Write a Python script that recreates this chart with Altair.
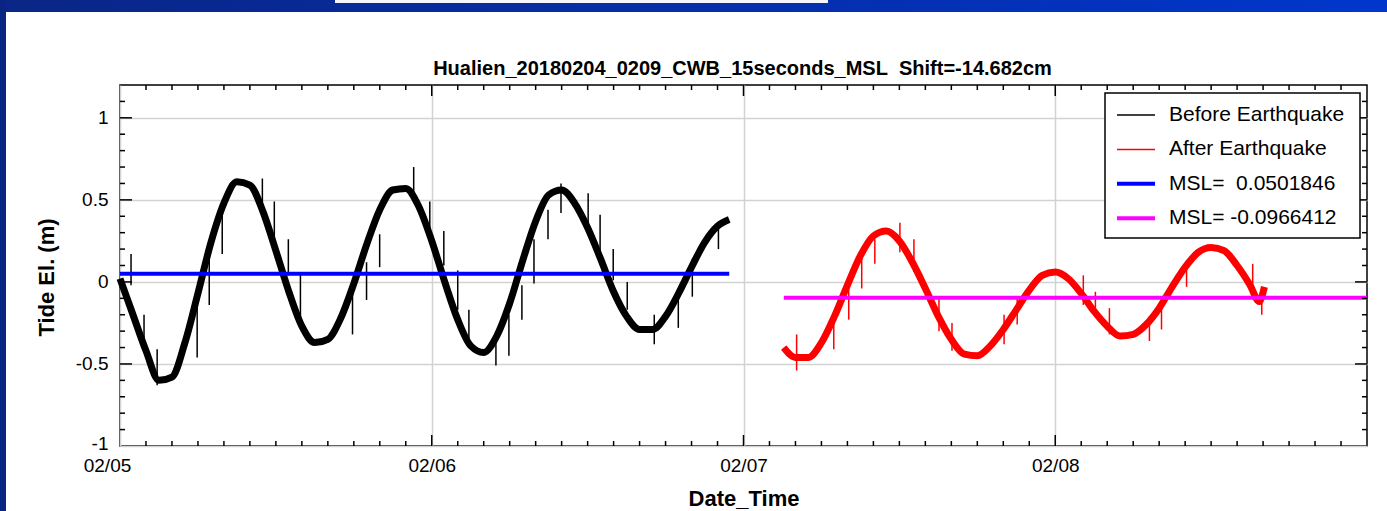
import altair as alt
import pandas as pd

FONT = "Liberation Sans"
NB = "\u00a0"

title_text = "Hualien_20180204_0209_CWB_15seconds_MSL" + NB + " Shift=-14.682cm"
x_title = "Date_Time"
y_title = "Tide El. (m)"

legend_labels = ["Before Earthquake", "After Earthquake", "MSL=" + NB + " 0.0501846", "MSL= -0.0966412"]
legend_colors = ["#000000", "#ff0000", "#0000ff", "#ff00ff"]

msl_values = [0.0501846, -0.0966412]
msl_start_hours = [0, 51.1]
msl_end_hours = [46.9, 96]

# hours since 02/05 00:00
before_hours = list(range(0, 47)) + [46.9]
before_values = [
    0.02, -0.20, -0.42, -0.60, -0.58, -0.37, -0.07, 0.24, 0.48, 0.61,
    0.59, 0.43, 0.19, -0.06, -0.27, -0.37, -0.35, -0.22, -0.01, 0.23,
    0.44, 0.56, 0.57, 0.46, 0.25, 0.00, -0.23, -0.39, -0.43, -0.33,
    -0.13, 0.13, 0.37, 0.53, 0.56, 0.48, 0.33, 0.14, -0.06, -0.21,
    -0.29, -0.29, -0.21, -0.07, 0.09, 0.24, 0.34, 0.38,
]
after_hours = [51.1] + list(range(52, 88)) + [87.7, 88.1]
after_values = [
    -0.40, -0.46, -0.46, -0.37, -0.21, -0.02, 0.16, 0.28, 0.31, 0.25,
    0.12, -0.04, -0.21, -0.35, -0.44, -0.45, -0.39, -0.29, -0.17, -0.05,
    0.04, 0.06, 0.02, -0.07, -0.18, -0.27, -0.33, -0.32, -0.26, -0.16,
    -0.03, 0.09, 0.18, 0.21, 0.19, 0.10, -0.02, -0.12, -0.03,
]

before_spike_hours = [0.85, 1.85, 2.86, 5.94, 6.87, 7.87, 10.96, 11.88, 12.96, 13.89,
                      17.9, 18.98, 19.99, 22.61, 23.85, 24.93, 26.0, 26.86, 28.94, 29.94,
                      30.94, 31.87, 32.95, 33.95, 36.04, 36.96, 37.97, 39.05, 41.13, 42.98,
                      44.06, 46.07]
before_spike_high = [0.17, -0.20, -0.41, -0.08, 0.23, 0.43, 0.63, 0.49, 0.26, 0.05,
                     -0.06, 0.12, 0.29, 0.70, 0.49, 0.31, 0.07, -0.17, -0.36, -0.20,
                     -0.02, 0.26, 0.44, 0.60, 0.54, 0.41, 0.20, 0.00, -0.20, -0.06,
                     0.14, 0.36]
before_spike_low = [-0.02, -0.43, -0.63, -0.46, -0.14, 0.17, 0.41, 0.25, 0.04, -0.23,
                    -0.32, -0.11, 0.09, 0.53, 0.26, 0.10, -0.17, -0.35, -0.51, -0.45,
                    -0.23, -0.01, 0.26, 0.42, 0.32, 0.18, 0.01, -0.17, -0.38, -0.28,
                    -0.09, 0.20]

after_spike_hours = [52.09, 54.95, 56.1, 57.1, 58.11, 60.04, 61.12, 63.05, 64.05, 68.06,
                     69.07, 74.16, 75.09, 76.17, 79.25, 80.18, 82.11, 87.2, 87.9]
after_spike_high = [-0.32, -0.18, 0.01, 0.18, 0.26, 0.36, 0.26, -0.10, -0.25, -0.20,
                    -0.10, 0.04, -0.06, -0.16, -0.21, -0.10, 0.13, 0.11, -0.08]
after_spike_low = [-0.54, -0.41, -0.23, -0.04, 0.11, 0.18, 0.06, -0.30, -0.42, -0.38,
                   -0.26, -0.14, -0.21, -0.32, -0.36, -0.29, -0.03, -0.05, -0.20]

x_tick_hours = [0, 24, 48, 72]
x_tick_labels = ["02/05", "02/06", "02/07", "02/08"]
y_tick_values = [-1, -0.5, 0, 0.5, 1]
y_tick_labels = ["-1", "-0.5", "0", "0.5", "1"]
x_domain = [0, 96]
y_domain = [-1, 1.2]

x_minor_hours = [h for h in range(2, 96, 2) if h % 24 != 0]
y_minor_values = [round(-1 + 0.1 * i, 1) for i in range(1, 22)
                  if round(-1 + 0.1 * i, 1) not in y_tick_values]

W, H = 1247, 361


def label_expr(values, labels):
    expr = "''"
    for v, lab in reversed(list(zip(values, labels))):
        expr = f"datum.value == {v} ? '{lab}' : ({expr})"
    return expr


xs = alt.Scale(domain=x_domain, nice=False, zero=False)
ys = alt.Scale(domain=y_domain, nice=False, zero=False)
xax = alt.Axis(values=x_tick_hours, labelExpr=label_expr(x_tick_hours, x_tick_labels),
               title=x_title, grid=True, gridColor="#d2d2d2", gridWidth=1.5,
               ticks=False, tickSize=0, domain=False, labelFont=FONT, labelFontSize=19,
               labelColor="black", labelPadding=10, labelFlush=False,
               labelOffset={"condition": {"test": "datum.value == 0", "value": -13}, "value": 0},
               titleFont=FONT, titleFontSize=22,
               titleFontWeight="bold", titleColor="black", titleY=42)
yax = alt.Axis(values=y_tick_values, labelExpr=label_expr(y_tick_values, y_tick_labels),
               title=y_title, grid=True, gridColor="#d2d2d2", gridWidth=1.5,
               ticks=False, tickSize=0, domain=False, labelFont=FONT, labelFontSize=19,
               labelColor="black", labelPadding=12, labelBaseline="middle",
               labelOffset={"condition": {"test": "datum.value == -1", "value": -3}, "value": 0},
               titleFont=FONT, titleFontSize=22,
               titleFontWeight="bold", titleColor="black", titleX=-62, titleY=192)


def X(f):
    return alt.X(f"{f}:Q", scale=xs, axis=xax)


def Y(f):
    return alt.Y(f"{f}:Q", scale=ys, axis=yax)


one = pd.DataFrame({"a": [0]})

# slide background pieces
top_strip = alt.Chart(one).mark_rect(
    color=alt.LinearGradient(gradient="linear",
                             stops=[alt.GradientStop(offset=0, color="#0a2686"),
                                    alt.GradientStop(offset=1, color="#0036cc")],
                             x1=0, x2=1, y1=0, y2=0)
).encode(x=alt.value(-120), x2=alt.value(W + 20), y=alt.value(-85), y2=alt.value(-73))
left_strip = alt.Chart(one).mark_rect(color="#0a2484").encode(
    x=alt.value(-120), x2=alt.value(-114), y=alt.value(-85), y2=alt.value(H + 65))
white_bar = alt.Chart(one).mark_rect(color="#f4f6fb").encode(
    x=alt.value(215), x2=alt.value(708), y=alt.value(-85), y2=alt.value(-82))

title_mark = alt.Chart(one).mark_text(
    font=FONT, fontSize=20, fontWeight="bold", color="black", align="center",
    baseline="alphabetic").encode(x=alt.value(W / 2 - 1), y=alt.value(-10),
                                  text=alt.value(title_text))

before_df = pd.DataFrame({"t": before_hours, "v": before_values})
after_df = pd.DataFrame({"t": after_hours, "v": after_values})
bspk = pd.DataFrame({"t": before_spike_hours, "v": before_spike_low, "hi": before_spike_high})
aspk = pd.DataFrame({"t": after_spike_hours, "v": after_spike_low, "hi": after_spike_high})
msl_df = pd.DataFrame({"t": msl_start_hours, "t2": msl_end_hours, "v": msl_values,
                       "c": legend_colors[2:]})

before_line = alt.Chart(before_df).mark_line(color="black", strokeWidth=7, interpolate="monotone",
                                             strokeJoin="round").encode(x=X("t"), y=Y("v"))
after_line = alt.Chart(after_df).mark_line(color="#ff0000", strokeWidth=7, interpolate="monotone",
                                           strokeJoin="round").encode(x=X("t"), y=Y("v"))
before_spikes = alt.Chart(bspk).mark_rule(color="black", strokeWidth=1.5).encode(
    x=X("t"), y=Y("v"), y2="hi:Q")
after_spikes = alt.Chart(aspk).mark_rule(color="#ff0000", strokeWidth=1.5).encode(
    x=X("t"), y=Y("v"), y2="hi:Q")
msl = alt.Chart(msl_df).mark_rule(strokeWidth=4).encode(
    x=X("t"), x2="t2:Q", y=Y("v"), color=alt.Color("c:N", scale=None))

# inward ticks
xmaj = pd.DataFrame({"t": x_tick_hours[1:]})
xmin = pd.DataFrame({"t": x_minor_hours})
ymaj = pd.DataFrame({"v": y_tick_values[1:]})
ymin = pd.DataFrame({"v": y_minor_values})
tick_layers = []
for df, ln in [(xmaj, 11), (xmin, 5)]:
    tick_layers.append(alt.Chart(df).mark_rule(color="black", strokeWidth=1.5).encode(
        x=X("t"), y=alt.value(H), y2=alt.value(H - ln)))
    tick_layers.append(alt.Chart(df).mark_rule(color="black", strokeWidth=1.5).encode(
        x=X("t"), y=alt.value(0), y2=alt.value(ln)))
for df, ln in [(ymaj, 12), (ymin, 5)]:
    tick_layers.append(alt.Chart(df).mark_rule(color="black", strokeWidth=1.5).encode(
        y=Y("v"), x=alt.value(0), x2=alt.value(ln)))
    tick_layers.append(alt.Chart(df).mark_rule(color="black", strokeWidth=1.5).encode(
        y=Y("v"), x=alt.value(W), x2=alt.value(W - ln)))

# legend box
lx0, ly0, lx1, ly1 = 985, 8, 1240, 153
legend_layers = [alt.Chart(one).mark_rect(fill="white", stroke="black", strokeWidth=1.5).encode(
    x=alt.value(lx0), x2=alt.value(lx1), y=alt.value(ly0), y2=alt.value(ly1))]
legend_widths = [1.5, 1.5, 4, 4]
for i, (lab, col, sw) in enumerate(zip(legend_labels, legend_colors, legend_widths)):
    yy = 30 + i * 34.4
    legend_layers.append(alt.Chart(one).mark_rule(color=col, strokeWidth=sw).encode(
        x=alt.value(lx0 + 12), x2=alt.value(lx0 + 50), y=alt.value(yy)))
    legend_layers.append(alt.Chart(one).mark_text(
        align="left", baseline="middle", font=FONT, fontSize=21, color="black").encode(
        x=alt.value(lx0 + 64), y=alt.value(yy), text=alt.value(lab)))

chart = alt.layer(
    top_strip, left_strip, white_bar, title_mark,
    before_line, after_line, before_spikes, after_spikes, msl,
    *tick_layers, *legend_layers
).properties(
    width=W, height=H,
    autosize=alt.AutoSizeParams(type="none"),
    padding={"left": 120, "top": 85, "right": 20, "bottom": 65},
    background="white",
).configure_view(stroke="black", strokeWidth=1.5)

chart.save("out.html", embed_options={"renderer": "svg", "actions": False})
